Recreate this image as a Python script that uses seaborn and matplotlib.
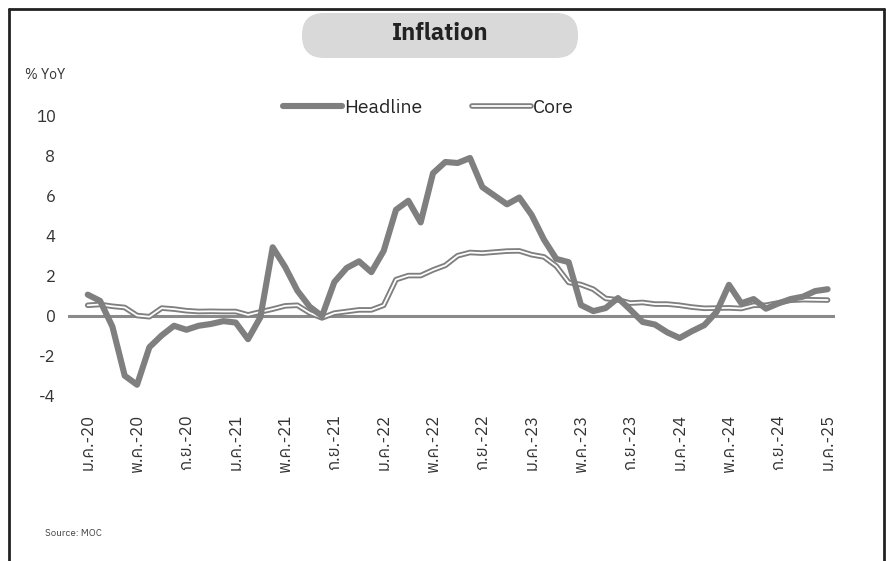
import matplotlib
matplotlib.use('Agg')
import matplotlib.pyplot as plt
import matplotlib.patheffects as pe
from matplotlib import font_manager
from matplotlib.patches import FancyBboxPatch
from matplotlib.lines import Line2D
import pandas as pd
import seaborn as sns

# monthly YoY, Jan-20 .. Jan-25
headline = [1.05, 0.74, -0.54, -2.99, -3.44, -1.57, -0.98, -0.50, -0.70, -0.50, -0.41, -0.27,
            -0.34, -1.17, -0.08, 3.41, 2.44, 1.25, 0.45, -0.02, 1.68, 2.38, 2.71, 2.17,
            3.23, 5.28, 5.73, 4.65, 7.10, 7.66, 7.61, 7.86, 6.41, 5.98, 5.55, 5.89,
            5.02, 3.79, 2.83, 2.67, 0.53, 0.23, 0.38, 0.88, 0.30, -0.31, -0.44, -0.83,
            -1.11, -0.77, -0.47, 0.19, 1.54, 0.62, 0.83, 0.35, 0.61, 0.83, 0.95, 1.23,
            1.32]
core = [0.52, 0.56, 0.47, 0.41, 0.01, -0.05, 0.38, 0.33, 0.25, 0.21, 0.22, 0.21,
        0.21, 0.04, 0.19, 0.33, 0.49, 0.52, 0.14, -0.11, 0.13, 0.21, 0.29, 0.29,
        0.52, 1.80, 2.00, 2.00, 2.28, 2.51, 2.99, 3.15, 3.12, 3.17, 3.22, 3.23,
        3.04, 2.93, 2.47, 1.66, 1.55, 1.32, 0.86, 0.79, 0.63, 0.66, 0.58, 0.58,
        0.52, 0.43, 0.37, 0.38, 0.39, 0.36, 0.52, 0.52, 0.64, 0.77, 0.80, 0.79,
        0.78]
tick_labels = ['ม.ค.-20', 'พ.ค.-20', 'ก.ย.-20', 'ม.ค.-21', 'พ.ค.-21', 'ก.ย.-21',
               'ม.ค.-22', 'พ.ค.-22', 'ก.ย.-22', 'ม.ค.-23', 'พ.ค.-23', 'ก.ย.-23',
               'ม.ค.-24', 'พ.ค.-24', 'ก.ย.-24', 'ม.ค.-25']
y_ticks = [10, 8, 6, 4, 2, 0, -2, -4]

df = pd.DataFrame({'month': range(len(headline)), 'Headline': headline, 'Core': core})

sns.set_theme(style='white')
thai = [f.name for f in font_manager.fontManager.ttflist if 'Thai' in f.name]
families = (thai[:1] if thai else []) + ['Noto Sans', 'DejaVu Sans']
plt.rcParams['font.family'] = families

grey = '#7f7f7f'
core_fx = [pe.Stroke(linewidth=4.0, foreground=grey), pe.Normal()]

fig = plt.figure(figsize=(8.86, 5.61), dpi=100)
ax = fig.add_axes([68 / 886, 1 - 400 / 561, 767 / 886, 295 / 561])

ax.axhline(0, color='#8a8a8a', lw=2.2, zorder=1)
sns.lineplot(data=df, x='month', y='Headline', ax=ax, color=grey, lw=4.4, zorder=3)
sns.lineplot(data=df, x='month', y='Core', ax=ax, color='white', lw=1.3, zorder=2,
             path_effects=core_fx)

ax.set_xlim(-1.6, 60.6)
ax.set_ylim(-4.2, 10.5)
ax.set_xticks(range(0, len(headline), 4))
ax.set_xticklabels(tick_labels, rotation=90, fontsize=12, color='#333333')
ax.set_yticks(y_ticks)
ax.set_yticklabels([str(v) for v in y_ticks], fontsize=12, color='#333333')
ax.tick_params(axis='x', length=0, pad=10)
ax.tick_params(axis='y', length=0, pad=9)
ax.set_xlabel('')
ax.set_ylabel('')
sns.despine(ax=ax, left=True, bottom=True)

h1 = Line2D([], [], color=grey, lw=4.4)
h2 = Line2D([], [], color='white', lw=1.3, path_effects=core_fx)
ax.legend([h1, h2], ['Headline', 'Core'], loc='center', bbox_to_anchor=(0.47, 0.99),
          ncol=2, frameon=False, fontsize=14, handlelength=3.0, handletextpad=0.1,
          columnspacing=2.6)

# title pill
fig.add_artist(FancyBboxPatch((302, 561 - 58), 276, 45,
                              boxstyle='round,pad=0,rounding_size=22',
                              transform=None, facecolor='#d9d9d9', edgecolor='none'))
fig.text(440 / 886, 1 - 33 / 561, 'Inflation', ha='center', va='center',
         fontsize=17, fontweight='bold', color='#222222')
fig.text(25 / 886, 1 - 75 / 561, '% YoY', ha='left', va='center', fontsize=10, color='#333333')
fig.text(45 / 886, 1 - 533 / 561, 'Source: MOC', ha='left', va='center', fontsize=7, color='#444444')

# outer frame
for xs, ys in [((9, 9), (0, 552)), ((9, 884), (552, 552)), ((884, 884), (552, 0))]:
    fig.add_artist(Line2D([v / 886 for v in xs], [v / 561 for v in ys],
                          transform=fig.transFigure, color='#222222', lw=2))

fig.savefig('out.png', dpi=100)
